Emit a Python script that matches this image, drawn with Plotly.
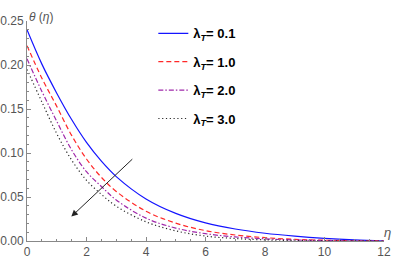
import plotly.graph_objects as go

eta = [0, 0.5, 1, 1.5, 2, 2.5, 3, 4, 5, 6, 7, 8, 9, 10, 11, 12]
theta_01 = [0.240, 0.201, 0.168, 0.138, 0.112, 0.0907, 0.0732, 0.0478, 0.0314, 0.0206, 0.0136, 0.0088, 0.0055, 0.0030, 0.0012, 0.0]
theta_10 = [0.222, 0.185, 0.153, 0.120, 0.0932, 0.0724, 0.0563, 0.0338, 0.0203, 0.0118, 0.0068, 0.0038, 0.0019, 0.0009, 0.0003, 0.0]
theta_20 = [0.207, 0.170, 0.136, 0.1035, 0.0787, 0.0620, 0.0466, 0.026, 0.0147, 0.0083, 0.0046, 0.0025, 0.0012, 0.0005, 0.0002, 0.0]
theta_30 = [0.195, 0.158, 0.122, 0.092, 0.069, 0.053, 0.0395, 0.0218, 0.0115, 0.0056, 0.0028, 0.0013, 0.0006, 0.0002, 0.0001, 0.0]
labels = ["0.1", "1.0", "2.0", "3.0"]
colors = ["rgb(20,20,255)", "rgb(255,40,40)", "rgb(160,40,170)", "rgb(40,40,40)"]
dashes = ["solid", "5px,3px", "5px,2px,1.5px,2px", "1.2px,2.6px"]
series = [theta_01, theta_10, theta_20, theta_30]

arrow_tail = (3.59, 0.0946)
arrow_head = (1.49, 0.0277)

W, H = 400, 260
L, R, T, B = 26.5, 16, 20.7, 19
pw, ph = W - L - R, H - T - B

fig = go.Figure()
for i, (vals, lab, c, d) in enumerate(zip(series, labels, colors, dashes)):
    fig.add_trace(go.Scatter(
        x=eta, y=vals, mode="lines", line_shape="spline",
        line=dict(color=c, width=1.2, dash=d),
        name="<b>λ<sub><i>T</i></sub>= " + lab + "</b>",
        legendgroup="g" + str(i),
    ))

fig.add_annotation(x=arrow_head[0], y=arrow_head[1], ax=arrow_tail[0], ay=arrow_tail[1],
                   xref="x", yref="y", axref="x", ayref="y", text="",
                   showarrow=True, arrowhead=2, arrowsize=1.3, arrowwidth=1, arrowcolor="#222")
fig.add_annotation(x=(27 - L) / pw, y=(252 - B) / ph, xref="paper", yref="paper",
                   text="<i>θ</i> (<i>η</i>)",
                   showarrow=False, font=dict(size=12, color="#555", family="Liberation Sans"))
fig.add_annotation(x=(393 - L) / pw, y=(18 - B) / ph, xref="paper", yref="paper", text="<i>η</i>",
                   showarrow=False, font=dict(size=13, color="#555", family="Liberation Sans"))

fig.update_layout(
    width=W, height=H,
    margin=dict(l=L, r=R, t=T, b=B, pad=0, autoexpand=False),
    plot_bgcolor="white", paper_bgcolor="white",
    font=dict(family="Liberation Sans", size=12, color="#555"),
    showlegend=True,
    legend=dict(x=(153 - L) / pw, y=1.012, xanchor="left", yanchor="top", bgcolor="rgba(0,0,0,0)",
                font=dict(size=13, color="black", family="Liberation Sans"),
                tracegroupgap=8.5, itemwidth=30),
    xaxis=dict(range=[0, 12], tickvals=[0, 2, 4, 6, 8, 10, 12], showline=True, linecolor="#888",
               linewidth=1, ticks="inside", ticklen=4, tickcolor="#888", showgrid=False, zeroline=False,
               automargin=False,
               minor=dict(dtick=0.5, ticks="inside", ticklen=2, tickcolor="#888"),
               tickfont=dict(size=12, color="#555")),
    yaxis=dict(range=[0, 0.25], tickvals=[0, 0.05, 0.10, 0.15, 0.20, 0.25], tickformat=".2f",
               showline=True, linecolor="#888", linewidth=1, ticks="inside", ticklen=4, tickcolor="#888",
               showgrid=False, zeroline=False, automargin=False,
               minor=dict(dtick=0.01, ticks="inside", ticklen=2, tickcolor="#888"),
               tickfont=dict(size=12, color="#555")),
)

fig.write_html("out.html", config={"displayModeBar": False},
               post_script="document.body.style.margin='0';document.body.style.overflow='hidden';")
